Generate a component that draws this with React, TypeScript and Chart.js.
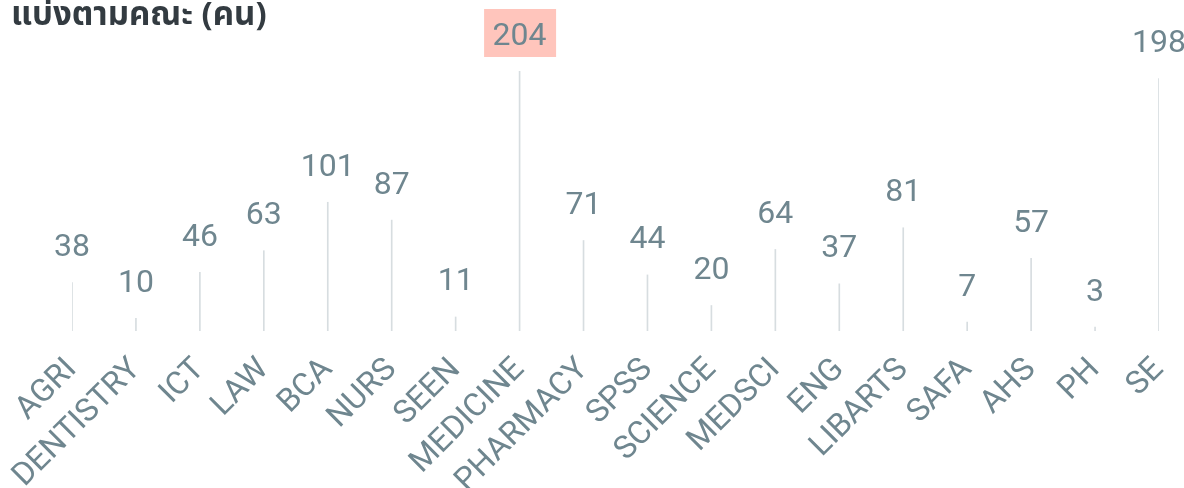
import React, { useEffect, useRef } from "react";
import { Chart, registerables } from "chart.js";

Chart.register(...registerables);

const TITLE = "แบ่งตามคณะ (คน)";
const categories = ["AGRI", "DENTISTRY", "ICT", "LAW", "BCA", "NURS", "SEEN", "MEDICINE", "PHARMACY", "SPSS", "SCIENCE", "MEDSCI", "ENG", "LIBARTS", "SAFA", "AHS", "PH", "SE"];
const values = [38, 10, 46, 63, 101, 87, 11, 204, 71, 44, 20, 64, 37, 81, 7, 57, 3, 198];
const highlightIndex = 7;

const LABEL_COLOR = "#6f868f";

const valueLabels = {
  id: "valueLabels",
  afterDatasetsDraw(chart: any) {
    const ctx = chart.ctx;
    const meta = chart.getDatasetMeta(0);
    ctx.save();
    ctx.font = "32px Roboto";
    ctx.textAlign = "center";
    ctx.textBaseline = "alphabetic";
    meta.data.forEach((el: any, i: number) => {
      const x = el.x;
      const base = el.y - 26.5;
      const txt = String(values[i]);
      if (i === highlightIndex) {
        ctx.fillStyle = "#ffc5bc";
        ctx.fillRect(x - 35.5, 9, 72, 48);
      }
      ctx.fillStyle = LABEL_COLOR;
      ctx.fillText(txt, x, base);
    });
    ctx.restore();
  },
};

const titlePlugin = {
  id: "titleText",
  afterDraw(chart: any) {
    const ctx = chart.ctx;
    ctx.save();
    ctx.font = "bold 33px 'Noto Sans', 'Noto Sans Thai', Roboto, sans-serif";
    ctx.fillStyle = "#333b41";
    ctx.textAlign = "left";
    ctx.textBaseline = "middle";
    ctx.fillText(TITLE, 11, 16);
    ctx.restore();
  },
};

export default function App() {
  const ref = useRef<HTMLCanvasElement | null>(null);
  useEffect(() => {
    if (!ref.current) return;
    const chart = new Chart(ref.current, {
      type: "bar",
      data: {
        labels: categories,
        datasets: [
          {
            data: values,
            backgroundColor: "#d7dde0",
            barThickness: 1,
            borderWidth: 0,
          },
        ],
      },
      options: {
        animation: false,
        responsive: false,
        maintainAspectRatio: false,
        layout: { padding: { left: 72, right: 25, top: 71, bottom: 0 } },
        plugins: { legend: { display: false }, tooltip: { enabled: false }, title: { display: false } },
        scales: {
          x: {
            offset: false,
            grid: { display: false, drawTicks: false },
            border: { display: false },
            ticks: {
              minRotation: 45,
              maxRotation: 45,
              autoSkip: false,
              padding: 20,
              color: LABEL_COLOR,
              font: { family: "Roboto", size: 32 },
            },
            afterFit: (scale: any) => {
              scale.height = 157;
              scale.paddingLeft = 0;
              scale.paddingRight = 0;
            },
          },
          y: {
            display: false,
            min: 0,
            max: 204,
          },
        },
      },
      plugins: [valueLabels, titlePlugin],
    });
    return () => chart.destroy();
  }, []);
  return (
    <div style={{ position: "absolute", left: 0, top: 0, width: 1184, height: 488 }}>
      <canvas ref={ref} width={1184} height={488} style={{ width: 1184, height: 488 }} />
    </div>
  );
}
